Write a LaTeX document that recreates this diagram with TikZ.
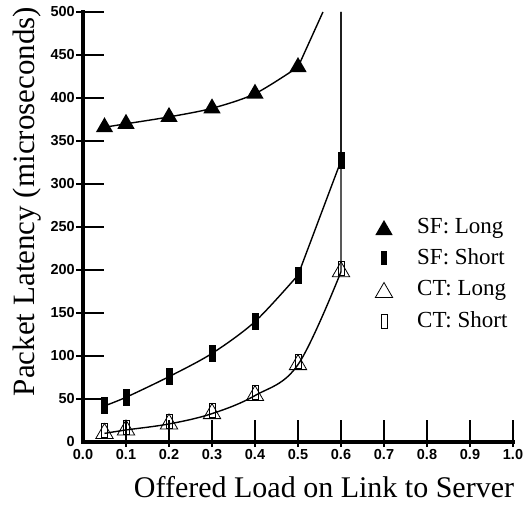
\documentclass[tikz,border=0pt]{standalone}
\usepackage{fontspec}
\setmainfont{Liberation Serif}
\newfontfamily\ticksans{Liberation Sans}
\usetikzlibrary{positioning, shapes.geometric}

\begin{document}
\begin{tikzpicture}[
        x=1pt, y=1pt,
        axis/.style={line width=4pt, line cap=rect},
        tickmark/.style={line width=2.5pt},
        ticklabel/.style={font=\ticksans\bfseries\fontsize{14.5}{14.5}\selectfont, inner sep=0pt},
        axistitle/.style={font=\fontsize{30}{30}\selectfont, inner sep=0pt},
        legendtext/.style={font=\fontsize{23}{23}\selectfont, inner sep=0pt, anchor=base west},
        curve/.style={line width=1.4pt},
        trimark/.style={regular polygon, regular polygon sides=3, minimum size=20pt, inner sep=0pt, outer sep=0pt},
        sflong/.style={trimark, fill=black},
        sfshort/.style={rectangle, fill=black, minimum width=7pt, minimum height=17pt, inner sep=0pt, outer sep=0pt},
        ctlong/.style={trimark, draw, line width=0.8pt},
        ctshort/.style={rectangle, draw, line width=0.8pt, minimum width=6pt, minimum height=14pt, inner sep=0pt, outer sep=0pt}
    ]
    \useasboundingbox (0,0) rectangle (524,504);

    % Plotbereich: x in Last, y in Mikrosekunden
    \begin{scope}[shift={(83pt,62pt)}, x=430pt, y=0.86pt]

    % Ticks
    \foreach \v in {50,100,...,500}
        \draw[tickmark] ([xshift=-7pt]0,\v) -- ++(28pt,0);
    \foreach \i in {1,...,10}
        \draw[tickmark] ([yshift=-5pt]\i/10,0) -- ++(0,27pt);

    % Achsen
    \draw[axis] (0,0) -- (0,500);
    \draw[axis] (0,0) -- (1,0);

    % Tick-Beschriftung
    \foreach \v in {0,50,...,500}
        \node[ticklabel, anchor=east] (ylab\v) at ([xshift=-8pt]0,\v) {\v};
    \foreach \i in {0,...,10}
        \node[ticklabel, anchor=north] (xlab\i) at ([yshift=-7pt]\i/10,0) {\ifnum\i=10 1.0\else 0.\i\fi};

    % SF: Long
    \foreach \x/\y [count=\i] in {0.05/366, 0.1/370, 0.2/378, 0.3/388, 0.4/405, 0.5/436}
        \node[sflong] (sfl\i) at (\x,\y) {};
    \coordinate (sfltop) at (0.558,500);
    \draw[curve] plot[smooth, tension=0.5] coordinates {(sfl1.center) (sfl2.center) (sfl3.center) (sfl4.center) (sfl5.center) (sfl6.center)} -- (sfltop);

    % SF: Short
    \foreach \x/\y [count=\i] in {0.05/42, 0.1/52, 0.2/76, 0.3/103, 0.4/140, 0.5/194, 0.6/327}
        \node[sfshort] (sfs\i) at (\x,\y) {};
    \coordinate (sfstop) at (0.6,500);
    \draw[curve] plot[smooth, tension=0.5] coordinates {(sfs1.center) (sfs2.center) (sfs3.center) (sfs4.center) (sfs5.center) (sfs6.center)} -- (sfs7.center) -- (sfstop);

    % CT: Long und CT: Short
    \foreach \x/\y [count=\i] in {0.05/10, 0.1/14, 0.2/21, 0.3/33, 0.4/54, 0.5/90, 0.6/198} {
        \node[ctlong] (ctl\i) at (\x,\y) {};
        \node[ctshort, anchor=north] (cts\i) at (ctl\i.corner 1) {};
    }
    \coordinate (cttop) at (0.6,500);
    \draw[curve] plot[smooth, tension=0.6] coordinates {(ctl1.center) (ctl2.center) (ctl3.center) (ctl4.center) (ctl5.center) (ctl6.center) (ctl7.center)} -- (cttop);

    \end{scope}

    % Achsentitel
    \node[axistitle, anchor=base] (xtitle) at (324,7) {Offered Load on Link to Server};
    \node[axistitle, font=\fontsize{31}{31}\selectfont, anchor=base, rotate=90] (ytitle) at (34,302.5) {Packet Latency (microseconds)};

    % Legende
    \node[sflong] (legsfl) at (384,274) {};
    \node[legendtext] (legsfltext) at (417,270.5) {SF: Long};
    \node[sfshort, minimum width=6pt, minimum height=14pt] (legsfs) at (384,246) {};
    \node[legendtext] (legsfstext) at (417,239.5) {SF: Short};
    \node[ctlong] (legctl) at (384,211.5) {};
    \node[legendtext] (legctltext) at (417,208.5) {CT: Long};
    \node[ctshort] (legcts) at (384,182.5) {};
    \node[legendtext] (legctstext) at (417,176.5) {CT: Short};

\end{tikzpicture}
\end{document}
